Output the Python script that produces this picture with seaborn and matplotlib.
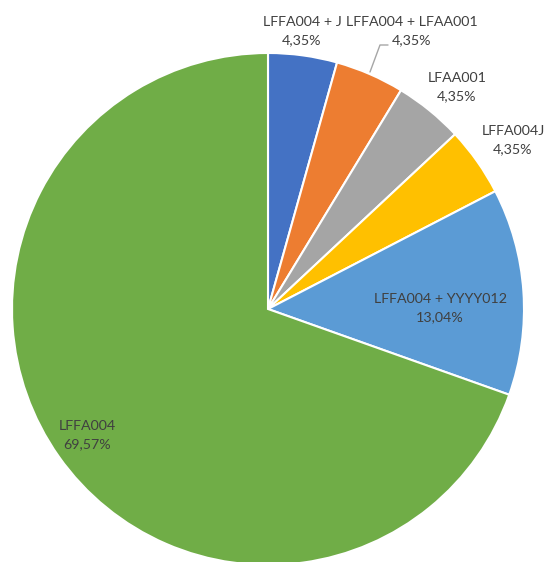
import matplotlib
matplotlib.use("Agg")
import matplotlib.pyplot as plt
import seaborn as sns

# slice data (Excel-style pie, clockwise from 12 o'clock)
categories = ["LFFA004 + J", "LFFA004 + LFAA001", "LFAA001", "LFFA004J",
              "LFFA004 + YYYY012", "LFFA004"]
counts = [1, 1, 1, 1, 3, 16]
colors = ["#4472C4", "#ED7D31", "#A5A5A5", "#FFC000", "#5B9BD5", "#70AD47"]

# label centres in pixel coordinates (x, y from top)
label_pos = [(302, 31), (412, 31), (457, 87), (513, 140), (440, 308), (87, 435)]

W, H = 546, 562
sns.set_theme(style="white")
plt.rcParams["font.family"] = ["Lato", "DejaVu Sans"]

fig = plt.figure(figsize=(W / 100, H / 100), dpi=100)
ax = fig.add_axes([0, 0, 1, 1])

total = sum(counts)
ax.pie(
    counts,
    colors=colors,
    startangle=90,
    counterclock=False,
    center=(268, H - 309),
    radius=256,
    wedgeprops=dict(edgecolor="white", linewidth=1.5),
)
ax.set_xlim(0, W)
ax.set_ylim(0, H)
ax.set_aspect("equal")
ax.axis("off")

for name, n, (x, y) in zip(categories, counts, label_pos):
    pct = f"{100 * n / total:.2f}%".replace(".", ",")
    ax.text(x, H - y, f"{name}\n{pct}", ha="center", va="center",
            fontsize=10.3, color="#404040", linespacing=1.55)

# leader line for the second label
ax.plot([370, 380, 388], [H - 72, H - 45, H - 45], color="#A6A6A6", lw=1)

fig.savefig("out.png", dpi=100, facecolor="white")
